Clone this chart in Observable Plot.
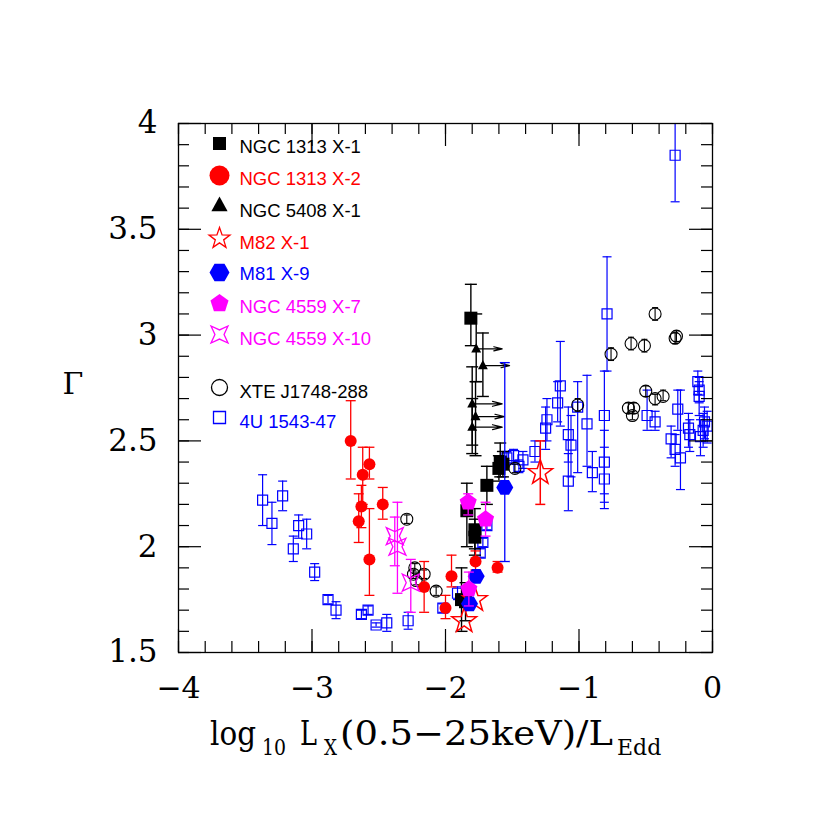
<!DOCTYPE html>
<html><head><meta charset="utf-8">
<script src="https://cdn.jsdelivr.net/npm/d3@7"></script>
<script src="https://cdn.jsdelivr.net/npm/@observablehq/plot@0.6"></script>
<style>body{margin:0;background:#fff}#chart{width:830px;height:830px}</style>
</head><body><div id="chart"></div>
<script>
// ---- data: [log10 Lx/LEdd, Gamma, Gamma low, Gamma high] ----
const u4U1543 = [
  [-3.37,2.22,2.10,2.34],[-3.30,2.11,2.01,2.21],[-3.22,2.24,2.17,2.31],[-3.10,2.10,2.04,2.15],
  [-3.04,2.06,1.99,2.13],[-3.14,1.99,1.93,2.05],[-2.98,1.88,1.84,1.92],[-2.88,1.75,1.73,1.77],
  [-2.82,1.70,1.66,1.74],[-2.63,1.68,1.66,1.70],[-2.58,1.70,1.68,1.72],[-2.52,1.63,1.62,1.64],
  [-2.44,1.64,1.60,1.68],[-2.28,1.65,1.61,1.69],[-2.02,1.71,1.69,1.73],[-1.91,1.78,1.75,1.81],
  [-1.74,1.97,1.95,1.99],[-1.72,2.02,2.00,2.04],[-1.69,2.10,2.08,2.12],
  [-1.54,2.42,2.39,2.45],[-1.49,2.43,2.39,2.46],[-1.45,2.38,2.35,2.41],[-1.42,2.41,2.37,2.45],
  [-1.33,2.45,2.40,2.50],[-1.25,2.56,2.46,2.66],[-1.24,2.60,2.50,2.70],[-1.16,2.68,2.59,2.78],
  [-1.14,2.76,2.57,2.97],[-1.08,2.53,2.40,2.66],[-1.06,2.48,2.33,2.62],[-1.08,2.31,2.17,2.44],
  [-1.01,2.66,2.35,2.78],[-0.94,2.58,2.38,2.81],[-0.90,2.35,2.26,2.45],
  [-0.79,3.10,2.83,3.37],[-0.81,2.62,2.25,2.83],[-0.81,2.40,2.21,2.55],[-0.81,2.32,2.18,2.47],
  [-0.49,2.62,2.55,2.74],[-0.43,2.59,2.55,2.64],[-0.31,2.51,2.42,2.57],[-0.28,2.46,2.38,2.53],
  [-0.24,2.42,2.27,2.74],[-0.26,2.65,2.55,2.74],[-0.18,2.56,2.47,2.63],[-0.17,2.53,2.45,2.60],
  [-0.11,2.78,2.72,2.83],[-0.10,2.74,2.68,2.80],[-0.10,2.71,2.62,2.78],[-0.09,2.52,2.43,2.60],
  [-0.06,2.59,2.51,2.66],[-0.04,2.57,2.49,2.64],[-0.07,2.55,2.47,2.63],[-0.28,3.85,3.63,4.05]
];
const xteJ1748 = [
  [-2.29,2.13,2.11,2.15],[-2.23,1.90,1.88,1.92],[-2.24,1.87,1.85,1.89],[-2.16,1.87,1.85,1.89],
  [-2.22,1.84,1.82,1.86],[-2.07,1.79,1.77,1.81],[-1.48,2.37,2.35,2.39],[-1.01,2.67,2.64,2.70],
  [-0.76,2.91,2.88,2.94],[-0.61,2.96,2.93,2.99],[-0.51,2.95,2.92,2.98],[-0.43,3.10,3.07,3.13],
  [-0.28,2.985,2.96,3.01],[-0.27,2.995,2.97,3.02],[-0.63,2.655,2.63,2.68],[-0.59,2.655,2.63,2.68],
  [-0.60,2.62,2.60,2.64],[-0.50,2.735,2.71,2.76],[-0.43,2.70,2.67,2.72],[-0.37,2.71,2.69,2.74]
];
const ngc1313x1 = [
  [-1.81,3.08,2.95,3.24],[-1.69,2.29,2.20,2.38],[-1.59,2.40,2.33,2.49],[-1.60,2.37,2.31,2.43],
  [-1.57,2.39,2.33,2.45],[-1.84,2.17,2.00,2.30],[-1.78,2.08,1.99,2.18],[-1.78,2.045,1.96,2.13],
  [-1.88,1.75,1.60,1.90],[-1.85,1.74,1.65,1.83]
];
// [x, Gamma, low, high, arrow end x] (lower limits in luminosity)
const ngc5408x1 = [
  [-1.77,2.935,2.78,3.10,-1.575],[-1.72,2.856,2.71,3.01,-1.52],[-1.80,2.675,2.48,2.85,-1.575],
  [-1.775,2.615,2.43,2.78,-1.56],[-1.80,2.565,2.44,2.70,-1.575]
];
const m82x1 = [[-1.29,2.35,2.20,2.50],[-1.86,1.65,1.65,1.65],[-1.78,1.75,1.75,1.75]];
const ngc1313x2 = [
  [-2.71,2.50,2.32,2.69],[-2.62,2.34,2.20,2.47],[-2.57,2.39,2.32,2.47],[-2.63,2.19,2.09,2.29],
  [-2.65,2.12,2.02,2.25],[-2.47,2.20,2.13,2.28],[-2.57,1.94,1.77,2.18],[-2.16,1.81,1.69,1.93],
  [-2.00,1.71,1.66,1.77],[-1.955,1.86,1.81,1.96],[-1.775,1.93,1.89,1.98],[-1.61,1.90,1.88,1.93]
];
const m81x9 = [[-1.556,2.28,1.93,2.87],[-1.77,1.86,1.86,1.86],[-1.82,1.73,1.73,1.73]];
const ngc4559x7 = [[-1.83,2.21,2.15,2.25],[-1.70,2.13,2.05,2.21],[-1.825,1.80,1.72,1.88]];
const ngc4559x10 = [[-2.38,2.05,1.91,2.14],[-2.36,2.00,1.78,2.21],[-2.26,1.83,1.69,1.94]];

const xTicks = [-4,-3,-2,-1,0];
const yTicks = [1.5,2,2.5,3,3.5,4];
const legendNames = ["NGC 1313 X-1","NGC 1313 X-2","NGC 5408 X-1","M82 X-1","M81 X-9","NGC 4559 X-7","NGC 4559 X-10","XTE J1748-288","4U 1543-47"];
const legendColors = ["black","red","black","red","blue","magenta","magenta","black","blue"];

// ---- layout ----
const W=830,H=830,ML=178,MR=118,MT=123,MB=178;
const FW=W-ML-MR, FH=H-MT-MB;

// ---- symbols (r = half size in px) ----
function S(f){return {draw(c,size){f(c,Math.sqrt(size/Math.PI));}};}
function polyPts(c,pts){pts.forEach((p,i)=>i?c.lineTo(p[0],p[1]):c.moveTo(p[0],p[1]));c.closePath();}
function ngon(n,rot,inner){return S((c,r)=>{const pts=[];const m=inner?2*n:n;
  for(let k=0;k<m;k++){const a=rot+k*2*Math.PI/m;const rr=inner&&(k%2)?r*inner:r;pts.push([rr*Math.sin(a),-rr*Math.cos(a)]);}
  polyPts(c,pts);});}
const sqSym=S((c,r)=>polyPts(c,[[-r,-r],[r,-r],[r,r],[-r,r]]));
const circSym=S((c,r)=>{c.moveTo(r,0);c.arc(0,0,r,0,2*Math.PI);c.closePath();});
const triSym=S((c,r)=>polyPts(c,[[0,-r],[r*0.9,r*0.65],[-r*0.9,r*0.65]]));
const star5=ngon(5,0,0.4);
const hexSym=ngon(6,Math.PI/6);
const pentSym=ngon(5,0);
const star4=ngon(4,Math.PI/4,0.38);
const capSym=S((c,r)=>{c.moveTo(-r,0);c.lineTo(r,0);});

function errs(data,color,capR,sw){
  const d=data.filter(e=>e[3]>e[2]);
  const o={stroke:color,strokeWidth:sw,clip:true};
  return [
    Plot.ruleX(d,{x:e=>e[0],y1:e=>e[2],y2:e=>e[3],...o}),
    Plot.dot(d,{x:e=>e[0],y:e=>e[2],symbol:capSym,r:capR,...o}),
    Plot.dot(d,{x:e=>e[0],y:e=>e[3],symbol:capSym,r:capR,...o})
  ];
}
function pts(data,symbol,r,fill,stroke,sw){
  return Plot.dot(data,{x:e=>e[0],y:e=>e[1],symbol,r,fill,stroke,strokeWidth:sw});
}

const xMinor=d3.range(-4,0.001,0.2).map(v=>+v.toFixed(2));
const yMinor=d3.range(1.5,4.001,0.1).map(v=>+v.toFixed(2));
const tk={stroke:"black",strokeWidth:1.2};
const MAJ=23, MIN=11;

// legend
const legSyms=[[sqSym,6.5,"black","none"],[circSym,10,"red","none"],[triSym,9,"black","none"],[star5,11,"none","red"],
  [hexSym,10,"blue","none"],[pentSym,9.5,"magenta","none"],[star4,12,"none","magenta"],[circSym,8,"none","black"],[sqSym,6,"none","blue"]];
const legSymDy=[20,52,82,115,149,180,211,264,294];
const legTxtDy=[24,56,88,119.5,151,184,216,268.5,299];
const legendMarks=[];
legendNames.forEach((name,i)=>{
  const [sym,r,fill,stroke]=legSyms[i];
  legendMarks.push(Plot.dot([name],{frameAnchor:"top-left",dx:41,dy:legSymDy[i],symbol:sym,r,fill,stroke,strokeWidth:1.3}));
  legendMarks.push(Plot.text([name],{frameAnchor:"top-left",dx:61,dy:legTxtDy[i],text:d=>d,textAnchor:"start",lineAnchor:"middle",
    fill:legendColors[i],fontFamily:"Liberation Sans, Arial, sans-serif",fontSize:18.5}));
});

const chart=Plot.plot({
  width:W,height:H,marginLeft:ML,marginRight:MR,marginTop:MT,marginBottom:MB,
  x:{domain:[-4,0]},y:{domain:[1.5,4]},
  style:{fontFamily:"DejaVu Serif",fontSize:"30px",background:"white",color:"black"},
  marks:[
    ...errs(u4U1543,"blue",4.5,1.2), pts(u4U1543,sqSym,5,"none","blue",1.2),
    ...errs(xteJ1748,"black",3,1.1), pts(xteJ1748,circSym,6,"none","black",1.1),
    ...errs(ngc1313x1,"black",6,1.4), pts(ngc1313x1,sqSym,6.5,"black","none",0),
    ...errs(ngc5408x1,"black",6,1.4),
    Plot.arrow(ngc5408x1,{x1:e=>e[0],y1:e=>e[1],x2:e=>e[4],y2:e=>e[1],stroke:"black",strokeWidth:1.2,headLength:13,headAngle:28}),
    pts(ngc5408x1,triSym,5.5,"black","none",0),
    ...errs(m82x1,"red",5,1.5), pts(m82x1,star5,13,"none","red",1.5),
    ...errs(ngc1313x2,"red",5,1.3), pts(ngc1313x2,circSym,6,"red","none",0),
    ...errs(m81x9,"blue",5,1.3), pts(m81x9,hexSym,8.5,"blue","none",0),
    ...errs(ngc4559x7,"magenta",5,1.3), pts(ngc4559x7,pentSym,9,"magenta","none",0),
    ...errs(ngc4559x10,"magenta",5,1.3), pts(ngc4559x10,star4,12,"none","magenta",1.3),
    ...legendMarks,
    // tick marks on all four sides
    Plot.tickX(xMinor,{x:d=>d,insetTop:FH-MIN,...tk}),
    Plot.tickX(xMinor,{x:d=>d,insetBottom:FH-MIN,...tk}),
    Plot.tickX(xTicks,{x:d=>d,insetTop:FH-MAJ,...tk}),
    Plot.tickX(xTicks,{x:d=>d,insetBottom:FH-MAJ,...tk}),
    Plot.tickY(yMinor,{y:d=>d,insetRight:FW-MIN,...tk}),
    Plot.tickY(yMinor,{y:d=>d,insetLeft:FW-MIN,...tk}),
    Plot.tickY(yTicks,{y:d=>d,insetRight:FW-MAJ,...tk}),
    Plot.tickY(yTicks,{y:d=>d,insetLeft:FW-MAJ,...tk}),
    Plot.axisX({ticks:xTicks,tickSize:0,tickPadding:24,label:null,fontSize:30,fontFamily:"DejaVu Serif",
      tickFormat:d=>d===0?"0":"\u2212"+Math.abs(d)}),
    Plot.axisY({ticks:yTicks,tickSize:0,tickPadding:21,label:null,fontSize:31,fontFamily:"DejaVu Serif",
      tickFormat:d=>String(d)}),
    Plot.text(["\u0393"],{frameAnchor:"left",dx:-116,dy:-4,text:d=>d,fontSize:30,fontFamily:"DejaVu Serif"}),
    Plot.frame({stroke:"black",strokeWidth:1.3})
  ]
});
document.getElementById("chart").appendChild(chart);

// x-axis title with subscripts
const svg=d3.select(chart);
const g=svg.append("g").attr("font-family","DejaVu Serif").attr("fill","black").attr("text-anchor","start");
const parts=[
  ["log",210,745,34,46],["10",262,755,22,24],["L",300,745,34,17],["X",324,755,22,13],
  ["(0.5\u221225keV)/L",340,745,34,273],["Edd",617,755,22,null]
];
parts.forEach(([t,x,y,fs,len])=>{
  const el=g.append("text").attr("x",x).attr("y",y).attr("font-size",fs).text(t);
  if(len) el.attr("textLength",len).attr("lengthAdjust","spacingAndGlyphs");
});
</script>
</body></html>
